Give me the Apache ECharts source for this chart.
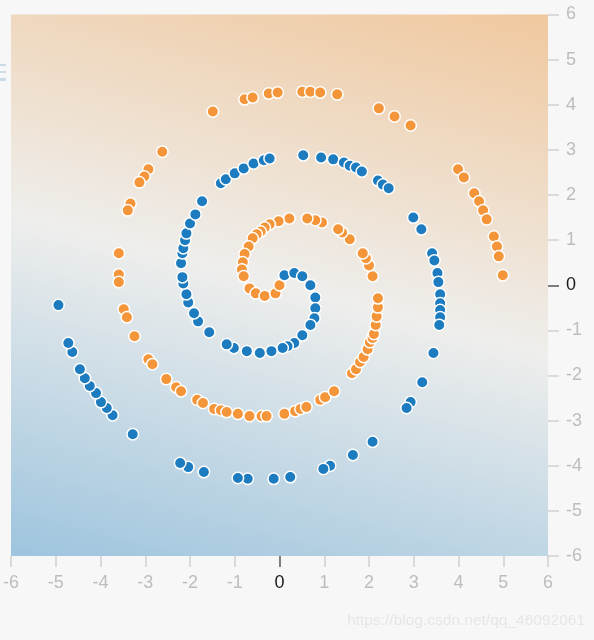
<!DOCTYPE html>
<html>
<head>
<meta charset="utf-8">
<script src="https://cdn.jsdelivr.net/npm/echarts@6/dist/echarts.min.js"></script>
<style>
  html, body { margin: 0; padding: 0; background: #f7f7f7; }
  #chart { width: 594px; height: 640px; }
</style>
</head>
<body>
<div id="chart"></div>
<script>
// 橙色类别（两条螺旋中的一条）
const orangePoints = [
  [-1.49, 3.85], [-0.78, 4.12], [-0.60, 4.16], [-0.24, 4.25], [-0.04, 4.27], [0.51, 4.29],
  [0.69, 4.29], [0.91, 4.27], [1.29, 4.23], [2.22, 3.92], [2.57, 3.74], [2.93, 3.54],
  [3.99, 2.57], [4.12, 2.39], [4.35, 2.04], [4.46, 1.86], [4.55, 1.66], [4.63, 1.46],
  [4.79, 1.08], [4.86, 0.86], [4.90, 0.64], [4.99, 0.22],
  [-2.62, 2.96], [-2.93, 2.57], [-3.02, 2.41], [-3.13, 2.28], [-3.33, 1.81], [-3.39, 1.66],
  [-3.59, 0.71], [-3.59, 0.24], [-3.59, 0.07], [-3.48, -0.53], [-3.41, -0.71], [-3.24, -1.13],
  [-2.93, -1.64], [-2.84, -1.75], [-2.53, -2.08], [-2.31, -2.26], [-2.20, -2.35], [-1.84, -2.54],
  [-1.71, -2.61], [-1.46, -2.74], [-1.31, -2.77], [-1.18, -2.81], [-0.93, -2.85], [-0.67, -2.90],
  [-0.40, -2.90], [-0.29, -2.90], [0.11, -2.85], [0.35, -2.79], [0.47, -2.74], [0.60, -2.70],
  [0.91, -2.54], [1.02, -2.48], [1.22, -2.35], [1.62, -1.95], [1.71, -1.86], [1.80, -1.70],
  [1.88, -1.59], [1.97, -1.42], [2.02, -1.26], [2.08, -1.17], [2.11, -1.08], [2.15, -0.88],
  [2.17, -0.69], [2.20, -0.49], [2.20, -0.29], [2.08, 0.20], [2.00, 0.44], [1.93, 0.60],
  [1.86, 0.71], [1.57, 1.02], [1.40, 1.17], [1.31, 1.24], [0.95, 1.39], [0.80, 1.44],
  [0.62, 1.48], [0.22, 1.48], [-0.02, 1.42], [-0.22, 1.35], [-0.33, 1.28], [-0.42, 1.19],
  [-0.51, 1.13], [-0.60, 1.04], [-0.69, 0.86], [-0.78, 0.69], [-0.82, 0.51], [-0.84, 0.35],
  [-0.80, 0.20], [-0.67, -0.07], [-0.53, -0.18], [-0.33, -0.24], [-0.09, -0.18], [0.00, 0.00]
]

// 蓝色类别
const bluePoints = [
  [0.11, 0.22], [0.33, 0.27], [0.51, 0.20], [0.69, 0.00], [0.80, -0.27], [0.80, -0.51],
  [0.78, -0.73], [0.69, -0.88], [0.51, -1.11], [0.33, -1.28], [0.18, -1.35], [0.07, -1.39],
  [-0.18, -1.46], [-0.44, -1.50], [-0.73, -1.46], [-1.02, -1.39], [-1.18, -1.31], [-1.57, -1.04],
  [-1.82, -0.80], [-1.91, -0.62], [-2.04, -0.38], [-2.08, -0.20], [-2.15, 0.04], [-2.17, 0.18],
  [-2.20, 0.49], [-2.17, 0.71], [-2.15, 0.82], [-2.11, 1.00], [-2.08, 1.15], [-2.00, 1.37],
  [-1.88, 1.57], [-1.73, 1.86],
  [-1.31, 2.26], [-1.20, 2.35], [-1.00, 2.48], [-0.80, 2.59], [-0.58, 2.70], [-0.35, 2.77],
  [-0.22, 2.81], [0.53, 2.88], [0.93, 2.83], [1.20, 2.79], [1.44, 2.72], [1.57, 2.65],
  [1.71, 2.61], [1.84, 2.52], [2.20, 2.32], [2.31, 2.23], [2.44, 2.15], [2.99, 1.50],
  [3.17, 1.24], [3.41, 0.71], [3.46, 0.55], [3.53, 0.27], [3.55, 0.07], [3.59, -0.20],
  [3.59, -0.40], [3.59, -0.55], [3.59, -0.71], [3.57, -0.88], [3.44, -1.50], [3.19, -2.15],
  [2.93, -2.59], [2.84, -2.72], [2.08, -3.47], [1.64, -3.76], [1.13, -4.00], [0.98, -4.07],
  [0.24, -4.25], [-0.13, -4.29], [-0.71, -4.29], [-0.93, -4.27], [-1.69, -4.14], [-2.04, -4.03],
  [-2.22, -3.94], [-3.28, -3.30], [-3.73, -2.88], [-3.86, -2.72], [-3.99, -2.59], [-4.10, -2.39],
  [-4.24, -2.23], [-4.35, -2.06], [-4.46, -1.86], [-4.63, -1.48], [-4.72, -1.28], [-4.94, -0.44]
]

const axisMin = -6
const axisMax = 6
const zeroTick = [0]

const FONT = '"Liberation Sans", Arial, Helvetica, sans-serif'
const labelColor = (value) => (Number(value) === 0 ? '#1a1a1a' : '#bdbdbd')

const chart = echarts.init(document.getElementById('chart'))

// 主轴：灰色刻度 + 标签；叠加轴：只画 0 处深色刻度
const baseAxis = (position) => ({
  type: 'value',
  min: axisMin,
  max: axisMax,
  interval: 1,
  position,
  axisLine: { show: false, onZero: false },
  splitLine: { show: false },
  axisTick: { show: true, length: 11, lineStyle: { color: '#d2d2d2', width: 1.6 } },
  axisLabel: { margin: 18, fontSize: 18, fontFamily: FONT, color: labelColor, showMinLabel: true, showMaxLabel: true },
})

const zeroAxis = (position) => ({
  type: 'value',
  min: axisMin,
  max: axisMax,
  position,
  axisLine: { show: false, onZero: false },
  splitLine: { show: false },
  axisLabel: { show: false },
  axisTick: { show: true, length: 11, customValues: zeroTick, lineStyle: { color: '#666', width: 1.6 } },
})

const pointStyle = (color) => ({
  color,
  borderColor: '#ffffff',
  borderWidth: 1.5,
  opacity: 1,
})

chart.setOption({
  backgroundColor: '#f7f7f7',
  animation: false,
  grid: {
    left: 6.5,
    right: 46,
    top: 14.5,
    bottom: 84,
    show: true,
    borderWidth: 0,
    // 背景：右上橙 -> 中间白 -> 左下蓝
    backgroundColor: new echarts.graphic.LinearGradient(0.657, -0.091, 0.343, 1.094, [
      { offset: 0, color: '#f0c89e' },
      { offset: 0.5, color: '#eeeeec' },
      { offset: 1, color: '#9dc4de' },
    ]),
  },
  xAxis: [baseAxis('bottom'), zeroAxis('bottom')],
  yAxis: [baseAxis('right'), zeroAxis('right')],
  series: [
    {
      type: 'scatter',
      name: 'orange',
      data: orangePoints,
      symbolSize: 11.5,
      itemStyle: pointStyle('#f5953a'),
      emphasis: { disabled: true },
    },
    {
      type: 'scatter',
      name: 'blue',
      data: bluePoints,
      symbolSize: 11.5,
      itemStyle: pointStyle('#1d7cc0'),
      emphasis: { disabled: true },
    },
  ],
  graphic: [
    { type: 'rect', left: 0, top: 64, shape: { width: 6, height: 2 }, style: { fill: '#cbdbe6' } },
    { type: 'rect', left: 0, top: 71, shape: { width: 6, height: 2 }, style: { fill: '#cbdbe6' } },
    { type: 'rect', left: 0, top: 78, shape: { width: 6, height: 3 }, style: { fill: '#cbdbe6' } },
    {
      type: 'text',
      right: 9,
      top: 613,
      style: { text: 'https://blog.csdn.net/qq_46092061', fontSize: 15.5, fontFamily: FONT, fill: '#e6e6e6' },
    },
  ],
})
</script>
</body>
</html>
